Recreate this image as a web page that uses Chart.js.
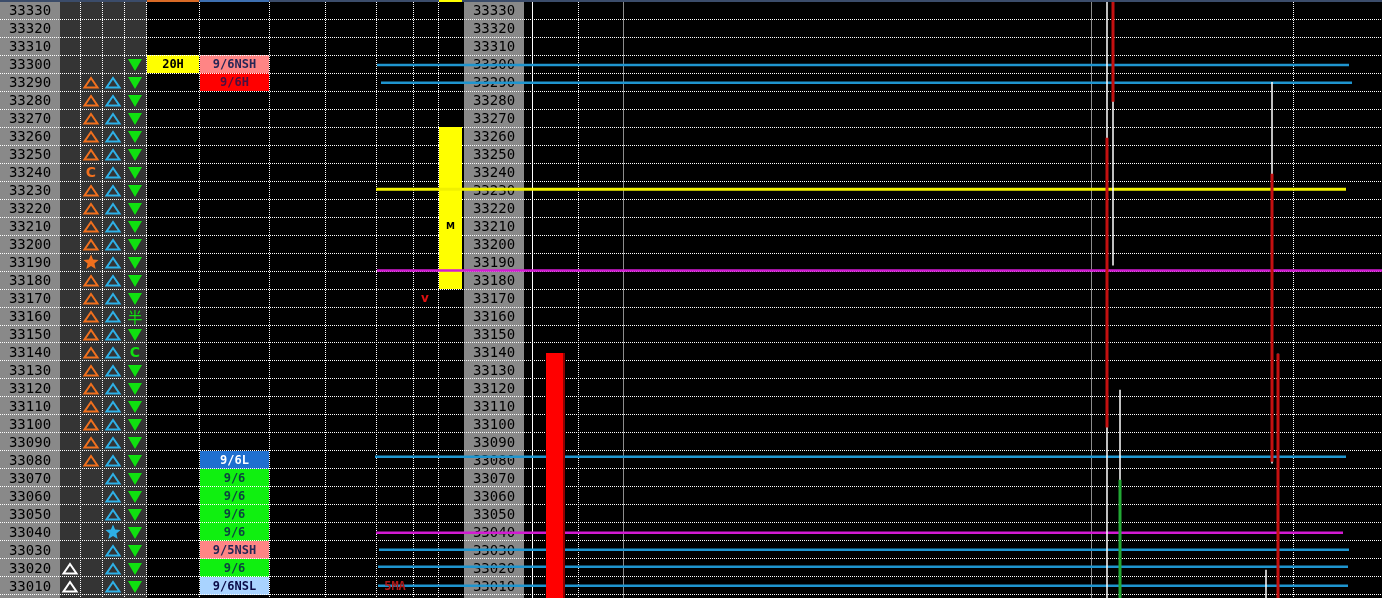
<!DOCTYPE html>
<html><head><meta charset="utf-8">
<script src="https://cdn.jsdelivr.net/npm/chart.js@4/dist/chart.umd.min.js"></script>
<style>html,body{margin:0;padding:0;background:#000;overflow:hidden}#wrap{width:1382px;height:598px;position:relative}</style>
</head><body><div id="wrap"><canvas id="c"></canvas></div>
<script>
// ---------- data ----------
const prices = [33330,33320,33310,33300,33290,33280,33270,33260,33250,33240,33230,33220,33210,33200,33190,33180,33170,33160,33150,33140,33130,33120,33110,33100,33090,33080,33070,33060,33050,33040,33030,33020,33010];
const T='△', D='▼', S='★';
const whiteMarks  = ['','','','','','','','','','','','','','','','','','','','','','','','','','','','','','','',T,T];
const orangeMarks = ['','','','',T,T,T,T,T,'C',T,T,T,T,S,T,T,T,T,T,T,T,T,T,T,T,'','','','','','',''];
const cyanMarks   = ['','','','',T,T,T,T,T,T,T,T,T,T,T,T,T,T,T,T,T,T,T,T,T,T,T,T,T,S,T,T,T];
const greenMarks  = ['','','',D,D,D,D,D,D,D,D,D,D,D,D,D,D,'半',D,'C',D,D,D,D,D,D,D,D,D,D,D,D,D];

const labelPrices = [33300,33290,33080,33070,33060,33050,33040,33030,33020,33010];
const labelTexts  = ['9/6NSH','9/6H','9/6L','9/6','9/6','9/6','9/6','9/5NSH','9/6','9/6NSL'];
const labelKinds  = ['nsh','h','l','d','d','d','d','nsh','d','nsl'];
const highPrices = [33300];
const highTexts  = ['20H'];

const levelPrices = [33299.5,33289.6,33230.4,33185.3,33081.8,33039.6,33030.2,33020.7,33010.2];
const levelKinds  = ['cyan','cyan','yellow','magenta','cyan','magenta','cyan','cyan','cyan'];
const levelFrom   = [377,381,376,377,375,376,379,378,378];
const levelTo     = [1349,1352,1346,1382,1346,1343,1349,1348,1348];

const candleX     = [1107,1113,1120,1266,1272,1278];
const candleOpen  = [33259,33350,32990,32990,33239,33139];
const candleHigh  = [33350,33350,33119,33019,33290,33139];
const candleLow   = [32980,33188,32980,32980,33078,32980];
const candleClose = [33098,33279,33069,32985,33079,32990];

const blockX = [450.5];
const blockLow = [33175];
const blockHigh = [33265];
const blockText = ['M'];
const blockTextPrice = [33210];

const volX = [554.5];
const volLow = [32990];
const volHigh = [33139.4];

const signalTexts = ['v','5MA'];
const signalX = [425,395];
const signalPrices = [33170,33010];

// ---------- styles ----------
const levelColor = {cyan:'#1f95cf', yellow:'#f0f000', magenta:'#d21ad2'};
const labelStyle = {
  nsh:{bg:'#ff8585', fg:'#262656'},
  h:{bg:'#ff0000', fg:'#4a1040'},
  l:{bg:'#1f6fd0', fg:'#ffffff'},
  d:{bg:'#10f010', fg:'#0c4440'},
  nsl:{bg:'#a9d3ff', fg:'#0a0a48'}
};
const rowEdges = [33335].concat(prices.map(p => p - 5));
const vGrid = [80,102,124,146,199,269,325,377,413,438,532,578,623,1091,1293];
const solidWhite = [532], solidGray = [623,1091];

function triUp(ctx,cx,cy,color){ctx.beginPath();ctx.moveTo(cx,cy-4.5);ctx.lineTo(cx+6.5,cy+5);ctx.lineTo(cx-6.5,cy+5);ctx.closePath();ctx.strokeStyle=color;ctx.lineWidth=2;ctx.stroke();}
function triDown(ctx,cx,cy,color){ctx.beginPath();ctx.moveTo(cx-7,cy-5);ctx.lineTo(cx+7,cy-5);ctx.lineTo(cx,cy+7);ctx.closePath();ctx.fillStyle=color;ctx.fill();}
function star(ctx,cx,cy,r,color){ctx.beginPath();for(let k=0;k<10;k++){const rr=k%2?r*0.45:r;const a=-Math.PI/2+k*Math.PI/5;ctx.lineTo(cx+rr*Math.cos(a),cy+rr*Math.sin(a));}ctx.closePath();ctx.fillStyle=color;ctx.fill();}
function mark(ctx,ch,cx,cy,color){
  if(!ch) return;
  if(ch===T) triUp(ctx,cx,cy+0.5,color);
  else if(ch===D) triDown(ctx,cx,cy,color);
  else if(ch===S) star(ctx,cx,cy+0.5,8,color);
  else {ctx.fillStyle=color;ctx.font=(ch==='半'?'15px "Noto Sans CJK JP"':'bold 14px "DejaVu Sans"');ctx.textAlign='center';ctx.textBaseline='middle';ctx.fillText(ch,cx,cy+1);}
}

const ladderPlugin = {
  id:'ladder',
  beforeDraw(chart){
    const {ctx, chartArea:a, scales:{x,y}} = chart;
    const px = v => x.getPixelForValue(v);
    ctx.save();
    ctx.fillStyle='#000';ctx.fillRect(a.left,a.top,a.width,a.height);
    const col=(x0,x1,c)=>{ctx.fillStyle=c;ctx.fillRect(px(x0),a.top,px(x1)-px(x0),a.height);};
    col(0,60,'#898989'); col(60,147,'#343434'); col(464,524,'#898989');
    const cell=(x0,x1,p,c)=>{const yt=y.getPixelForValue(p+5), yb=y.getPixelForValue(p-5);ctx.fillStyle=c;ctx.fillRect(px(x0),yt,px(x1)-px(x0),yb-yt);};
    labelPrices.forEach((p,i)=>cell(200,269,p,labelStyle[labelKinds[i]].bg));
    highPrices.forEach(p=>cell(147,199,p,'#ffff00'));
    ctx.restore();
  },
  beforeDatasetsDraw(chart){
    const {ctx, scales:{x,y}} = chart;
    const px = v => x.getPixelForValue(v);
    ctx.save();
    ctx.textAlign='center';ctx.textBaseline='middle';
    prices.forEach((p,i)=>{
      const cy=y.getPixelForValue(p);
      ctx.fillStyle='#000';ctx.font='14px "DejaVu Sans Mono"';
      ctx.fillText(String(p),px(30),cy+1);
      ctx.fillText(String(p),px(494),cy+1);
      mark(ctx,whiteMarks[i],px(70),cy,'#ffffff');
      mark(ctx,orangeMarks[i],px(91),cy,'#f0701e');
      mark(ctx,cyanMarks[i],px(113),cy,'#2eb0e6');
      mark(ctx,greenMarks[i],px(135),cy,'#10e010');
    });
    ctx.font='bold 12px "DejaVu Sans Mono"';
    labelPrices.forEach((p,i)=>{ctx.fillStyle=labelStyle[labelKinds[i]].fg;ctx.fillText(labelTexts[i],px(234.5),y.getPixelForValue(p)+1);});
    highPrices.forEach((p,i)=>{ctx.fillStyle='#000';ctx.fillText(highTexts[i],px(173),y.getPixelForValue(p)+1);});
    ctx.restore();
  },
  afterDatasetsDraw(chart){
    const {ctx, chartArea:a, scales:{x,y}} = chart;
    const px = v => x.getPixelForValue(v);
    ctx.save();
    ctx.textAlign='center';ctx.textBaseline='middle';
    ctx.font='bold 9px "DejaVu Sans"';ctx.fillStyle='#000';
    blockText.forEach((t,i)=>ctx.fillText(t,px(blockX[i]),y.getPixelForValue(blockTextPrice[i])+1));
    ctx.font='bold 12px "DejaVu Sans"';ctx.fillStyle='#e01010';
    ctx.fillText(signalTexts[0],px(signalX[0]),y.getPixelForValue(signalPrices[0])+1);
    ctx.font='bold 12px "DejaVu Sans Mono"';ctx.fillStyle='#b01818';
    ctx.fillText(signalTexts[1],px(signalX[1]),y.getPixelForValue(signalPrices[1])+1);
    // top frame
    ctx.fillStyle='#3b4c6a';ctx.fillRect(a.left,a.top,a.width,2);
    ctx.fillStyle='#d86a26';ctx.fillRect(px(147),a.top,px(199)-px(147),2);
    ctx.fillStyle='#3d6fb0';ctx.fillRect(px(200),a.top,px(269)-px(200),2);
    ctx.fillStyle='#ffff00';ctx.fillRect(px(439),a.top,px(462)-px(439),2);
    ctx.restore();
  }
};

// ---------- datasets ----------
const datasets = [];
blockX.forEach((bx,i)=>datasets.push({type:'line',label:'block',data:[{x:bx,y:blockLow[i]},{x:bx,y:blockHigh[i]}],borderColor:'#ffff00',borderWidth:23,borderCapStyle:'butt',pointRadius:0,order:5}));
levelPrices.forEach((p,i)=>datasets.push({type:'line',label:'level',data:[{x:levelFrom[i],y:p},{x:levelTo[i],y:p}],borderColor:levelColor[levelKinds[i]],borderWidth:levelKinds[i]==='yellow'?3:2.5,pointRadius:0,order:3}));
volX.forEach((vx,i)=>{
  datasets.push({type:'line',label:'volume',data:[{x:vx,y:volLow[i]},{x:vx,y:volHigh[i]}],borderColor:'#ff0000',borderWidth:17,borderCapStyle:'butt',pointRadius:0,order:2});
  datasets.push({type:'line',label:'volume edge',data:[{x:vx+9.5,y:volLow[i]},{x:vx+9.5,y:volHigh[i]}],borderColor:'#8e0000',borderWidth:2,borderCapStyle:'butt',pointRadius:0,order:2});
});
candleX.forEach((cx,i)=>{
  datasets.push({type:'line',label:'wick',data:[{x:cx,y:candleLow[i]},{x:cx,y:candleHigh[i]}],borderColor:'#ffffff',borderWidth:1.5,pointRadius:0,order:1});
  const up = candleClose[i] >= candleOpen[i];
  datasets.push({type:'line',label:'body',data:[{x:cx,y:candleOpen[i]},{x:cx,y:candleClose[i]}],borderColor:up?'#22a834':'#c41010',borderWidth:3,borderCapStyle:'butt',pointRadius:0,order:0});
});

new Chart(document.getElementById('c'),{
  type:'line',
  data:{datasets},
  plugins:[ladderPlugin],
  options:{
    responsive:true,maintainAspectRatio:false,animation:false,events:[],
    layout:{padding:0},
    plugins:{legend:{display:false},tooltip:{enabled:false}},
    scales:{
      x:{type:'linear',min:0,max:1382,position:'bottom',offset:false,
        afterFit(s){s.height=0;},
        afterBuildTicks(s){s.ticks=vGrid.map(v=>({value:v}));},
        ticks:{display:false},
        grid:{offset:false,drawTicks:false,tickLength:0,lineWidth:1,
          color:c=>solidGray.includes(c.tick&&c.tick.value)?'#8c8c8c':'#ffffff'},
        border:{display:false,dash:c=>(c.tick&&(solidWhite.includes(c.tick.value)||solidGray.includes(c.tick.value)))?[]:[1,1]}
      },
      y:{type:'linear',min:33003.33,max:33335.56,position:'left',
        afterFit(s){s.width=0;},
        afterBuildTicks(s){s.ticks=rowEdges.map(v=>({value:v}));},
        ticks:{display:false},
        grid:{drawTicks:false,tickLength:0,lineWidth:1,color:'#ffffff'},
        border:{display:false,dash:[1,1]}
      }
    }
  }
});
</script></body></html>
